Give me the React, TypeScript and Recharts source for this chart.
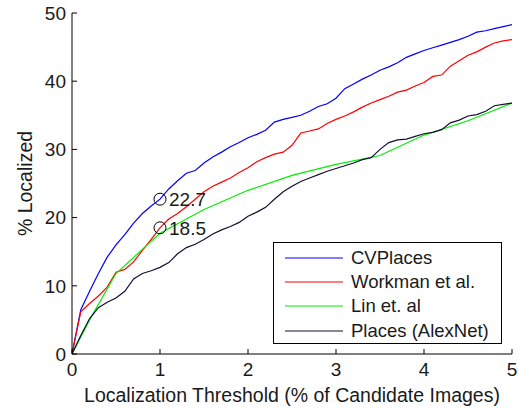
import React from 'react';
import { LineChart, Line, XAxis, YAxis, Legend, ReferenceDot } from 'recharts';

// x positions (% of candidate images) shared by the jagged curves
const thresholds = [
  0, 0.1, 0.2, 0.3, 0.4, 0.5, 0.6, 0.7, 0.8, 0.9,
  1.0, 1.1, 1.2, 1.3, 1.4, 1.5, 1.6, 1.7, 1.8, 1.9,
  2.0, 2.1, 2.2, 2.3, 2.4, 2.5, 2.6, 2.7, 2.8, 2.9,
  3.0, 3.1, 3.2, 3.3, 3.4, 3.5, 3.6, 3.7, 3.8, 3.9,
  4.0, 4.1, 4.2, 4.3, 4.4, 4.5, 4.6, 4.7, 4.8, 4.9, 5.0,
];

const cvPlaces = [
  0, 6.5, 9.2, 11.8, 14.2, 16.0, 17.5, 19.2, 20.6, 21.7,
  22.7, 24.2, 25.4, 26.5, 26.9, 28.0, 28.9, 29.6, 30.4, 31.0,
  31.7, 32.2, 32.8, 34.0, 34.4, 34.7, 35.0, 35.6, 36.3, 36.7,
  37.5, 38.9, 39.6, 40.3, 40.9, 41.6, 42.1, 42.7, 43.5, 44.0,
  44.5, 44.9, 45.3, 45.7, 46.1, 46.6, 47.2, 47.4, 47.7, 48.0, 48.3,
];

const workman = [
  0, 6.2, 7.4, 8.5, 9.8, 12.0, 12.4, 13.5, 15.2, 16.8,
  18.5, 19.8, 20.6, 21.6, 22.7, 23.8, 24.6, 25.2, 25.8, 26.6,
  27.3, 28.2, 28.8, 29.3, 29.6, 30.6, 32.4, 32.7, 33.0, 33.8,
  34.4, 34.9, 35.5, 36.2, 36.8, 37.3, 37.8, 38.4, 38.7, 39.3,
  39.8, 40.7, 40.9, 42.2, 43.0, 43.8, 44.3, 45.0, 45.6, 45.9, 46.1,
];

const alexNet = [
  0, 2.7, 5.2, 6.8, 7.6, 8.2, 9.2, 11.0, 11.8, 12.2,
  12.7, 13.4, 14.7, 15.6, 16.1, 16.8, 17.6, 18.2, 18.7, 19.3,
  20.2, 20.8, 21.5, 22.7, 23.8, 24.6, 25.3, 25.8, 26.3, 26.8,
  27.2, 27.6, 28.0, 28.5, 28.8, 30.0, 31.0, 31.4, 31.5, 31.9,
  32.3, 32.5, 32.9, 33.9, 34.3, 34.9, 35.1, 35.6, 36.4, 36.6, 36.8,
];

// Lin et al. is piecewise linear, so only its knots
const linX = [0, 0.2, 0.5, 1.0, 1.5, 2.0, 2.5, 3.0, 3.5, 4.0, 4.5, 5.0];
const linY = [0, 5.0, 11.8, 17.7, 21.2, 24.0, 26.2, 27.8, 29.1, 32.1, 34.2, 36.8];

const xTicks = [0, 1, 2, 3, 4, 5];
const yTicks = [0, 10, 20, 30, 40, 50];

const markers = [
  { x: 1, y: 22.7, label: '22.7' },
  { x: 1, y: 18.5, label: '18.5' },
];

const series = [
  { name: 'CVPlaces', color: '#0000ff', data: thresholds.map((x, i) => ({ x, y: cvPlaces[i] })) },
  { name: 'Workman et al.', color: '#ff0000', data: thresholds.map((x, i) => ({ x, y: workman[i] })) },
  { name: 'Lin et. al', color: '#00ee00', data: linX.map((x, i) => ({ x, y: linY[i] })) },
  { name: 'Places (AlexNet)', color: '#111133', data: thresholds.map((x, i) => ({ x, y: alexNet[i] })) },
];

const FONT = '"Liberation Sans", Arial, Helvetica, sans-serif';
const INK = '#1a1a1a';

const LegendBox = () => (
  <div style={{ width: 229, height: 102, border: '1px solid #000', background: '#fff', boxSizing: 'border-box', position: 'relative', fontFamily: FONT }}>
    {series.map((s, i) => (
      <div key={s.name} style={{ position: 'absolute', left: 0, top: 15 + i * 24.2 - 12, height: 24, display: 'flex', alignItems: 'center' }}>
        <svg width={70} height={24} style={{ display: 'block' }}>
          <line x1={11} y1={12} x2={69} y2={12} stroke={s.color} strokeWidth={1.2} />
        </svg>
        <span style={{ marginLeft: 7, fontSize: 18.5, color: INK, whiteSpace: 'nowrap', lineHeight: '24px' }}>{s.name}</span>
      </div>
    ))}
  </div>
);

export default function App() {
  return (
    <div style={{ position: 'absolute', left: 0, top: 0, background: '#fff' }}>
      <LineChart width={518} height={408} margin={{ top: 13, right: 6, bottom: 0, left: 0 }} style={{ fontFamily: FONT }}>
        <XAxis
          type="number"
          dataKey="x"
          domain={[0, 5]}
          ticks={xTicks}
          allowDataOverflow
          height={54}
          tickSize={-5}
          tickMargin={14}
          stroke="#000"
          tick={{ fill: INK, fontSize: 19 }}
          label={{ value: 'Localization Threshold (% of Candidate Images)', position: 'insideBottom', offset: 6, fill: INK, fontSize: 19.5 }}
        />
        <YAxis
          type="number"
          dataKey="y"
          domain={[0, 50]}
          ticks={yTicks}
          width={72}
          tickSize={-5}
          tickMargin={11}
          stroke="#000"
          tick={{ fill: INK, fontSize: 19 }}
          label={{ value: '% Localized', angle: -90, position: 'insideLeft', offset: 25, fill: INK, fontSize: 19.5, style: { textAnchor: 'middle' } }}
        />
        {series.map((s) => (
          <Line
            key={s.name}
            data={s.data}
            dataKey="y"
            name={s.name}
            type="linear"
            stroke={s.color}
            strokeWidth={1.2}
            dot={false}
            isAnimationActive={false}
          />
        ))}
        {markers.map((m) => (
          <ReferenceDot
            key={m.label}
            x={m.x}
            y={m.y}
            r={6}
            fill="none"
            stroke="#000"
            strokeWidth={1}
            label={{ value: m.label, position: 'right', offset: 3, fill: INK, fontSize: 19 }}
          />
        ))}
        <Legend
          layout="horizontal"
          verticalAlign="middle"
          align="center"
          content={() => <LegendBox />}
          wrapperStyle={{ position: 'absolute', left: 273, top: 242, width: 229, height: 102 }}
        />
      </LineChart>
    </div>
  );
}
